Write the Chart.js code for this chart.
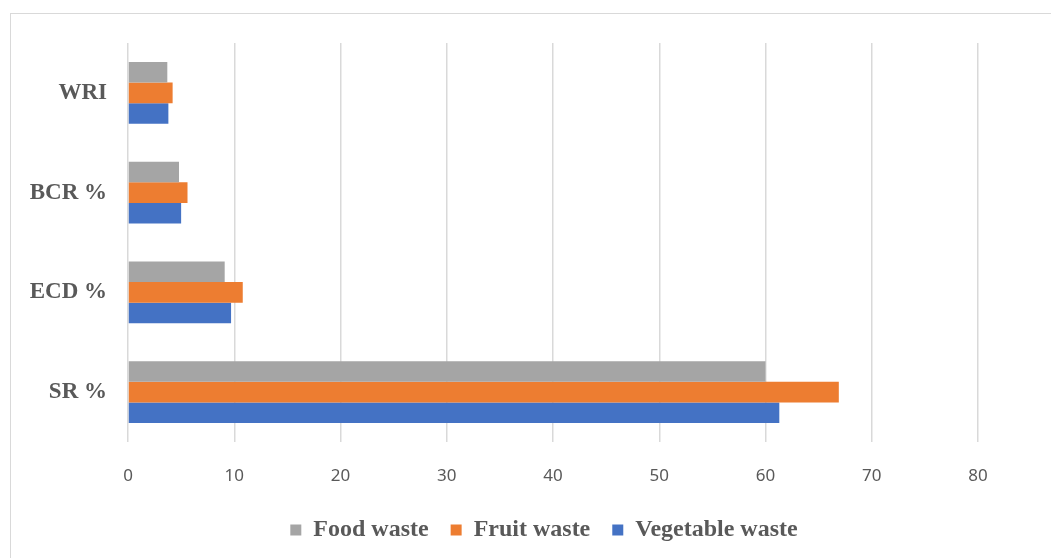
<!DOCTYPE html>
<html>
<head>
<meta charset="utf-8">
<script src="https://cdn.jsdelivr.net/npm/chart.js@4"></script>
<style>
  html, body { margin: 0; padding: 0; background: #fff; }
  #wrap { position: relative; width: 1051px; height: 558px; }
  #frame { position: absolute; left: 10px; top: 13px; width: 1050px; height: 560px; border: 1.5px solid #d9d9d9; box-sizing: border-box; }
  canvas { position: absolute; left: 0; top: 0; }
</style>
</head>
<body>
<div id="wrap">
  <div id="frame"></div>
  <canvas id="wasteChart" width="1051" height="558"></canvas>
</div>
<script>
const categories = ['WRI', 'BCR %', 'ECD %', 'SR %'];
const foodWaste = [3.7, 4.8, 9.1, 60.0];
const fruitWaste = [4.2, 5.6, 10.8, 66.9];
const vegetableWaste = [3.8, 5.0, 9.7, 61.3];
const xTicks = [0, 10, 20, 30, 40, 50, 60, 70, 80];

// the original legend sits a bit right of the plot centre
const shiftLegend = {
    id: 'shiftLegend',
    afterLayout(chart) {
        if (chart.legend) chart.legend.left = 110;
    }
};

const ctx = document.getElementById('wasteChart').getContext('2d');
new Chart(ctx, {
    type: 'bar',
    data: {
        labels: categories,
        datasets: [
            { label: 'Food waste', data: foodWaste, backgroundColor: '#a5a5a5' },
            { label: 'Fruit waste', data: fruitWaste, backgroundColor: '#ed7d31' },
            { label: 'Vegetable waste', data: vegetableWaste, backgroundColor: '#4472c4' }
        ]
    },
    options: {
        indexAxis: 'y',
        responsive: false,
        animation: false,
        devicePixelRatio: 1,
        layout: { padding: { left: 0, right: 73, top: 43, bottom: 6 } },
        datasets: {
            bar: { categoryPercentage: 0.62, barPercentage: 1.0 }
        },
        scales: {
            x: {
                min: 0,
                max: 80,
                afterBuildTicks: (scale) => { scale.ticks = xTicks.map(v => ({ value: v })); },
                afterFit: (scale) => { scale.height = 54; },
                grid: { color: '#d9d9d9', lineWidth: 1.5, drawTicks: false },
                border: { display: false },
                ticks: {
                    padding: 24,
                    color: '#595959',
                    font: { family: 'Noto Sans', size: 17 }
                }
            },
            y: {
                afterFit: (scale) => { scale.width = 128; },
                grid: { display: false, drawTicks: false },
                border: { display: false },
                ticks: {
                    padding: 21,
                    color: '#595959',
                    font: { family: 'Liberation Serif', size: 23, weight: 'bold' }
                }
            }
        },
        plugins: {
            legend: {
                position: 'bottom',
                labels: {
                    boxWidth: 11,
                    boxHeight: 11,
                    padding: 22,
                    color: '#595959',
                    font: { family: 'Liberation Serif', size: 24, weight: 'bold' }
                }
            },
            tooltip: { enabled: false }
        }
    },
    plugins: [shiftLegend]
});
</script>
</body>
</html>
